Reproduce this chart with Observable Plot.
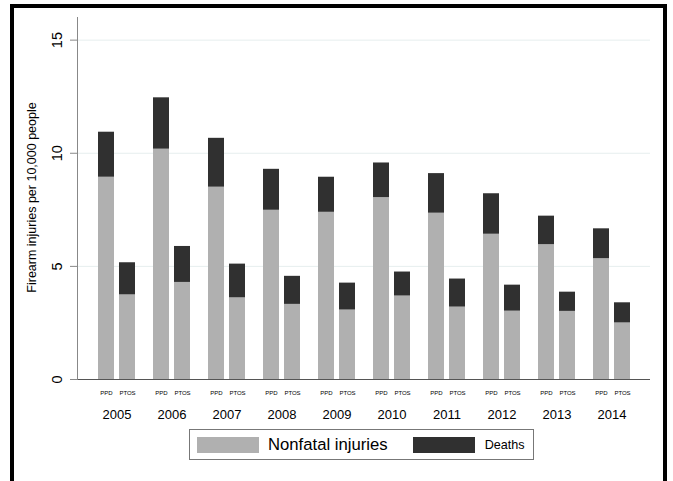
<!DOCTYPE html>
<html>
<head>
<meta charset="utf-8">
<script src="https://cdn.jsdelivr.net/npm/d3@7"></script>
<script src="https://cdn.jsdelivr.net/npm/@observablehq/plot@0.6"></script>
<style>
  html, body { margin: 0; padding: 0; background: #fff; }
  body { font-family: "Liberation Sans", Arial, sans-serif; }
  #wrap { position: relative; width: 673px; height: 481px; overflow: hidden; }
  #frame { position: absolute; left: 10px; top: 4px; width: 657px; height: 490px; box-sizing: border-box;
           border: 4px solid #000; border-bottom: none; pointer-events: none; }
  #chart svg { display: block; }
  #legend { margin-left: 189px; margin-top: 5px; width: 345px; height: 31px; box-sizing: border-box;
            border: 1px solid #777; display: flex; align-items: center; }
  .sw { width: 62px; height: 16px; flex: none; }
  .lab { color: #000; white-space: nowrap; }
</style>
</head>
<body>
<div id="wrap">
  <div id="chart"></div>
  <div id="legend"></div>
  <div id="frame"></div>
</div>
<script>
const years = [2005, 2006, 2007, 2008, 2009, 2010, 2011, 2012, 2013, 2014];
const groups = ["PPD", "PTOS"];
const types = ["Nonfatal injuries", "Deaths"];
const colors = ["#b0b0b0", "#303030"];
const ppdNonfatal = [8.94, 10.18, 8.50, 7.48, 7.39, 8.04, 7.35, 6.42, 5.96, 5.34];
const ppdDeaths   = [1.99, 2.27, 2.16, 1.81, 1.55, 1.53, 1.75, 1.79, 1.26, 1.32];
const ptosNonfatal = [3.74, 4.29, 3.61, 3.32, 3.07, 3.69, 3.20, 3.02, 3.01, 2.50];
const ptosDeaths   = [1.42, 1.59, 1.49, 1.24, 1.19, 1.06, 1.24, 1.15, 0.85, 0.89];
const yTicks = [0, 5, 10, 15];
const yLabel = "Firearm injuries per 10,000 people";

const data = years.flatMap((yr, i) => [
  {year: yr, group: "PPD", type: types[0], value: ppdNonfatal[i]},
  {year: yr, group: "PPD", type: types[1], value: ppdDeaths[i]},
  {year: yr, group: "PTOS", type: types[0], value: ptosNonfatal[i]},
  {year: yr, group: "PTOS", type: types[1], value: ptosDeaths[i]}
]);

const chart = Plot.plot({
  width: 673,
  height: 424,
  marginLeft: 77,
  marginRight: 23,
  marginTop: 17,
  marginBottom: 45,
  style: {fontFamily: "'Liberation Sans', Arial, sans-serif", background: "transparent", color: "#000"},
  x: {type: "band", domain: years, paddingInner: 0.33, paddingOuter: 0.36, label: null},
  y: {domain: [0, 16], label: null},
  color: {domain: types, range: colors},
  marks: [
    Plot.ruleY(yTicks.filter(d => d > 0), {stroke: "#e6eeee", strokeWidth: 1}),
    Plot.barY(data.filter(d => d.group === groups[0]), {x: "year", y: "value", fill: "type", insetRight: 21}),
    Plot.barY(data.filter(d => d.group === groups[1]), {x: "year", y: "value", fill: "type", insetLeft: 21}),
    Plot.ruleY([0], {stroke: "#555", strokeWidth: 1.2}),
    Plot.frame({anchor: "left", stroke: "#888"}),
    Plot.axisY({ticks: yTicks, tickSize: 7, tickFormat: () => "", stroke: "#888", label: null}),
    Plot.text(yTicks, {y: d => d, text: d => String(d), frameAnchor: "left", textAnchor: "middle", rotate: -90, dx: -20, fontSize: 14.5, fill: "#000"}),
    Plot.text([yLabel], {text: d => d, frameAnchor: "left", textAnchor: "middle", rotate: -90, dx: -46, dy: -1, fontSize: 12.5, fill: "#000"}),
    Plot.axisX({tickSize: 0, tickPadding: 30, fontSize: 13, tickFormat: d => String(d), label: null}),
    Plot.text(years, {x: d => d, text: () => groups[0], frameAnchor: "bottom", dy: 15, dx: -10.5, fontSize: 6, fill: "#000"}),
    Plot.text(years, {x: d => d, text: () => groups[1], frameAnchor: "bottom", dy: 15, dx: 10.5, fontSize: 6, fill: "#000"})
  ]
});
document.getElementById("chart").appendChild(chart);

const legend = document.getElementById("legend");
legend.innerHTML = `
  <div class="sw" style="background:${colors[0]};margin-left:7px"></div>
  <div class="lab" style="font-size:16.7px;margin-left:9px">${types[0]}</div>
  <div class="sw" style="background:${colors[1]};margin-left:25px"></div>
  <div class="lab" style="font-size:12.6px;margin-left:10px">${types[1]}</div>`;
</script>
</body>
</html>
